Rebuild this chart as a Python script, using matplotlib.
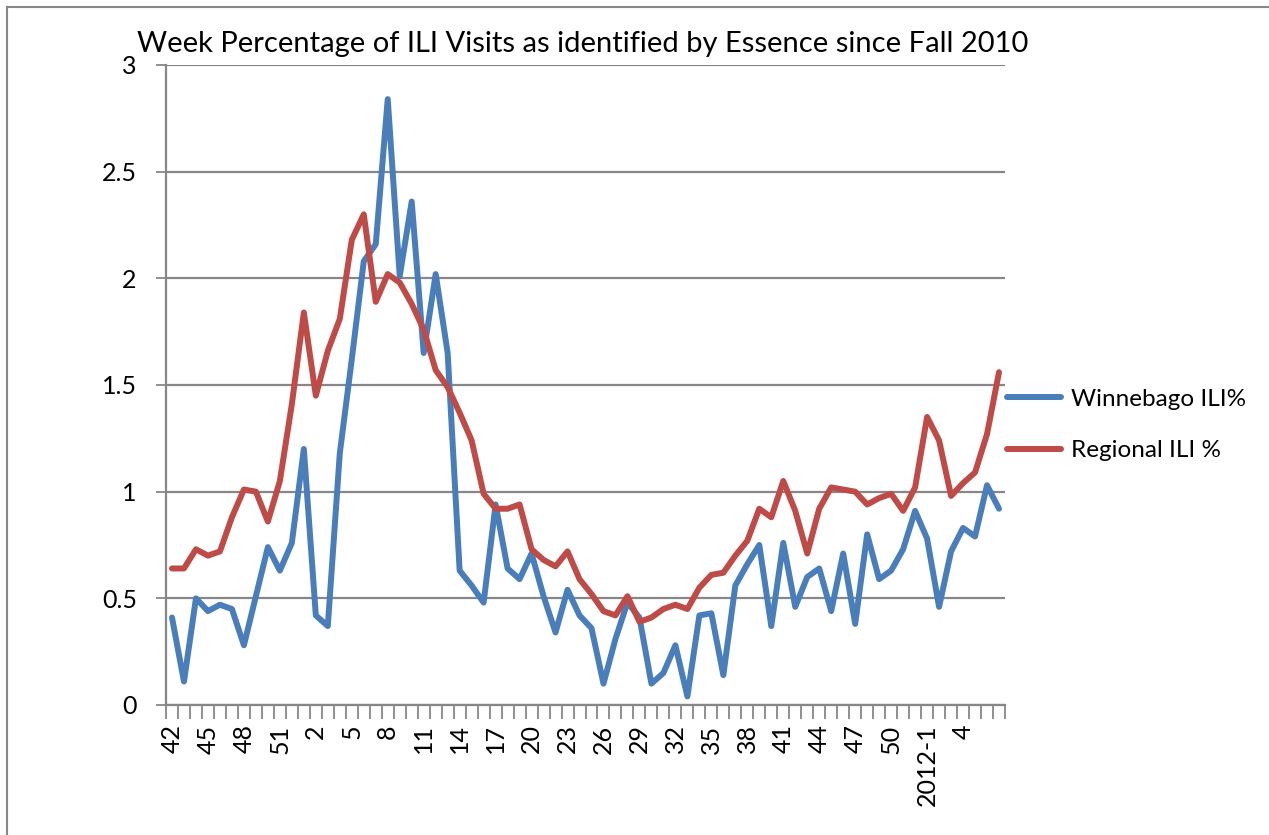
import numpy as np
import matplotlib.pyplot as plt
from matplotlib.lines import Line2D

# semanas: 42-52 de 2010, 1-52 de 2011, 1-7 de 2012
semanas = [str(w) for w in range(42, 53)] + [str(w) for w in range(1, 53)] + \
          ["2012-1"] + [str(w) for w in range(2, 8)]

winnebago = [0.41, 0.11, 0.50, 0.44, 0.47, 0.45, 0.28, 0.51, 0.74, 0.63,
             0.76, 1.20, 0.42, 0.37, 1.18, 1.62, 2.08, 2.16, 2.84, 2.01,
             2.36, 1.65, 2.02, 1.65, 0.63, 0.56, 0.48, 0.94, 0.64, 0.59,
             0.71, 0.51, 0.34, 0.54, 0.42, 0.36, 0.10, 0.31, 0.48, 0.41,
             0.10, 0.15, 0.28, 0.04, 0.42, 0.43, 0.14, 0.56, 0.66, 0.75,
             0.37, 0.76, 0.46, 0.60, 0.64, 0.44, 0.71, 0.38, 0.80, 0.59,
             0.63, 0.73, 0.91, 0.78, 0.46, 0.72, 0.83, 0.79, 1.03, 0.92]

regional = [0.64, 0.64, 0.73, 0.70, 0.72, 0.88, 1.01, 1.00, 0.86, 1.05,
            1.41, 1.84, 1.45, 1.66, 1.81, 2.18, 2.30, 1.89, 2.02, 1.98,
            1.88, 1.76, 1.57, 1.49, 1.37, 1.24, 0.99, 0.92, 0.92, 0.94,
            0.73, 0.68, 0.65, 0.72, 0.59, 0.52, 0.44, 0.42, 0.51, 0.39,
            0.41, 0.45, 0.47, 0.45, 0.55, 0.61, 0.62, 0.70, 0.77, 0.92,
            0.88, 1.05, 0.91, 0.71, 0.92, 1.02, 1.01, 1.00, 0.94, 0.97,
            0.99, 0.91, 1.02, 1.35, 1.24, 0.98, 1.04, 1.09, 1.27, 1.56]

fuente = "Lato"
gris = "#878787"

fig = plt.figure(figsize=(12.69, 8.35), dpi=100)
ax = fig.add_axes([166/1269, 1 - 705/835, (1005-166)/1269, (705-65)/835])

x = np.arange(len(semanas))
ax.plot(x, winnebago, color="#4A7EBB", lw=4.3, solid_joinstyle="round",
        solid_capstyle="round", label="Winnebago ILI%")
ax.plot(x, regional, color="#BE4B48", lw=4.3, solid_joinstyle="round",
        solid_capstyle="round", label="Regional ILI %")

ax.set_xlim(-0.5, len(semanas) - 0.5)
ax.set_ylim(0, 3)
ax.set_yticks(np.arange(0, 3.01, 0.5))
ax.set_yticklabels(["0", "0.5", "1", "1.5", "2", "2.5", "3"],
                   fontsize=18, family=fuente)
ax.grid(axis="y", color=gris, lw=1.6)
ax.set_axisbelow(True)

# etiquetas cada 3 semanas (la ultima no aparece), marcas entre categorias
pos = x[::3][:-1]
ax.set_xticks(pos)
ax.set_xticklabels([semanas[i] for i in pos], rotation=90, fontsize=18, family=fuente)
ax.set_xticks(np.arange(-0.5, len(semanas), 1), minor=True)
ax.tick_params(axis="x", which="major", length=0, pad=14)
ax.tick_params(axis="x", which="minor", length=10, width=1.3, color=gris)
ax.tick_params(axis="y", length=7, width=1.3, color=gris, pad=14)

for lado in ["top", "right"]:
    ax.spines[lado].set_visible(False)
for lado in ["left", "bottom"]:
    ax.spines[lado].set_color(gris)
    ax.spines[lado].set_linewidth(1.6)

fig.text(137/1269, 1 - 52/835, "Week Percentage of ILI Visits as identified by Essence since Fall 2010",
         fontsize=21, family=fuente, ha="left", va="baseline")

ax.legend(loc="center left", bbox_to_anchor=(1.0, (705 - 425) / 640), frameon=False,
          prop={"family": fuente, "size": 17.5}, handlelength=2.2,
          labelspacing=1.25, handletextpad=0.4, borderaxespad=0, borderpad=0.1)

# borde del grafico
fig.add_artist(Line2D([7/1269, 7/1269], [0, 1 - 7/835], color=gris, lw=1.5))
fig.add_artist(Line2D([7/1269, 1], [1 - 7/835, 1 - 7/835], color=gris, lw=1.5))

plt.savefig("out.png", dpi=100)
